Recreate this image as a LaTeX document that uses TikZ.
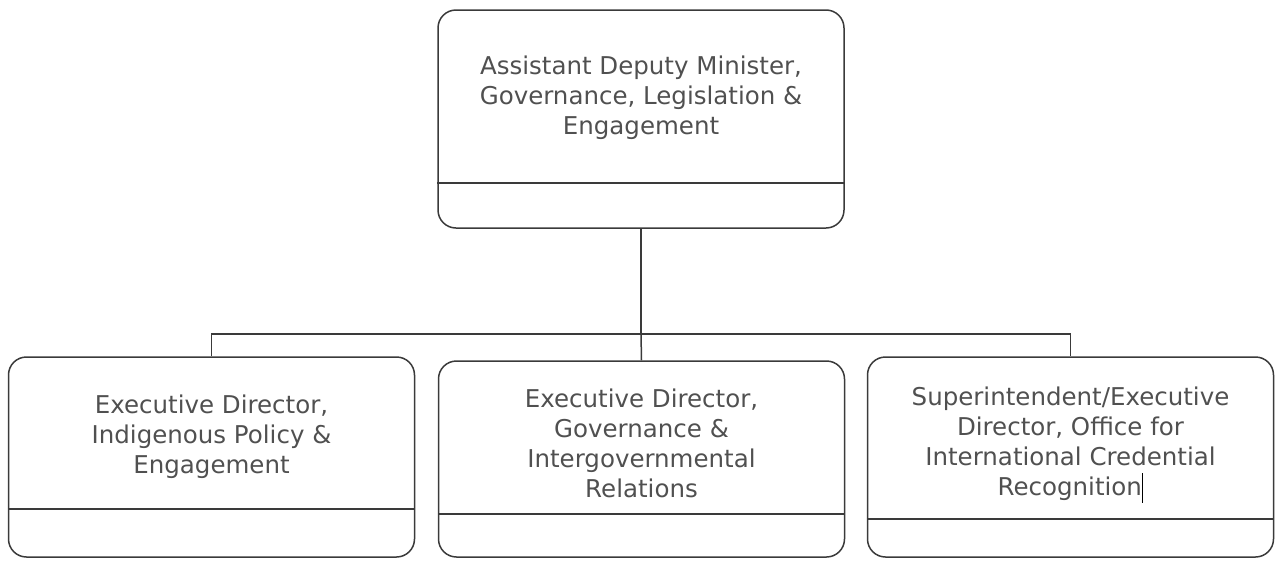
\documentclass[tikz,border=0pt]{standalone}
\usepackage{fontspec}
\setmainfont{DejaVu Sans}
\usepackage{tikz}
\usetikzlibrary{positioning}
\definecolor{kenar}{HTML}{3A3A3A}
\definecolor{yazi}{HTML}{505050}

\begin{document}
\begin{tikzpicture}[x=1pt, y=-1pt, line width=1.5pt,
  every node/.style={font=\fontsize{24.5}{30}\selectfont, text=yazi},
  kutu/.style={draw=kenar, rounded corners=18pt, minimum width=406pt, inner sep=0pt},
  ayrac/.style={draw=kenar},
  baglanti/.style={draw=kenar}]
\useasboundingbox (0,0) rectangle (1275,560);
% ust kutu
\node[kutu, minimum height=218pt] (adm) at (641,119) {};
\draw[ayrac] (adm.west |- 0,183) -- (adm.east |- 0,183);
\node[align=center] (admT) at (641,98) {Assistant Deputy Minister,\\Governance, Legislation \&\\Engagement};
% alt kutular
\node[kutu, minimum height=200pt] (ed1) at (211.5,457) {};
\draw[ayrac] (ed1.west |- 0,509) -- (ed1.east |- 0,509);
\node[align=center] (ed1T) at (211.5,437) {Executive Director,\\Indigenous Policy \&\\Engagement};
\node[kutu, minimum height=196pt] (ed2) at (641.5,459) {};
\draw[ayrac] (ed2.west |- 0,514) -- (ed2.east |- 0,514);
\node[align=center] (ed2T) at (641.5,443) {Executive Director,\\Governance \&\\Intergovernmental\\Relations};
\node[kutu, minimum height=200pt] (ed3) at (1070.5,457) {};
\draw[ayrac] (ed3.west |- 0,519) -- (ed3.east |- 0,519);
\node[align=center] (ed3T) at (1070.5,445) {Superintendent/Executive\\Director, Office for\\International Credential\\Recognition{\color{black}\rule[-7pt]{1.5pt}{30pt}}};
% baglantilar
\coordinate (bus) at (641,334);
\draw[baglanti] (adm.south) -- (bus);
\draw[baglanti] (ed1.north) |- (bus) -| (ed3.north);
\draw[baglanti] (bus) -- (ed2.north);
\end{tikzpicture}
\end{document}
